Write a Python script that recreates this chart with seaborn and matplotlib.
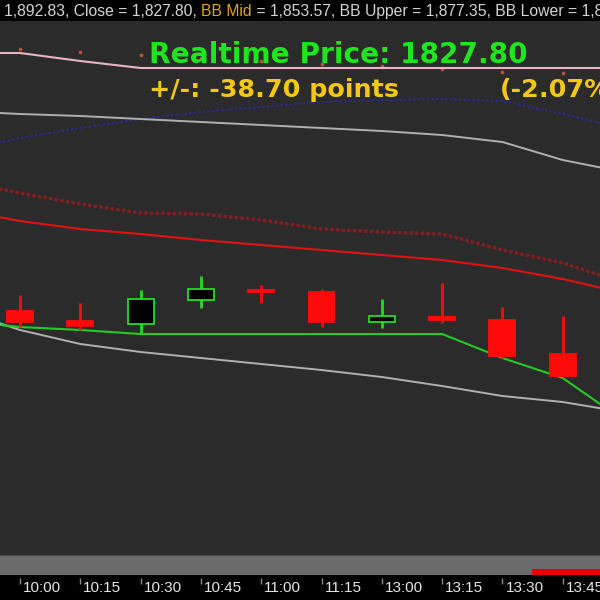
import numpy as np
import matplotlib
matplotlib.use('Agg')
import matplotlib.pyplot as plt
import matplotlib.transforms as mtransforms
import seaborn as sns

sns.set_style('dark')
plt.rcParams['font.family'] = ['Liberation Sans', 'DejaVu Sans']

# --- data ---
time_labels = ['09:45', '10:00', '10:15', '10:30', '10:45', '11:00',
               '11:15', '13:00', '13:15', '13:30', '13:45']
tick_pos = list(range(-1, 10))

candle_pos = list(range(10))
opens = [1837.55, 1836.05, 1835.60, 1839.20, 1840.70, 1840.40, 1835.90, 1836.65, 1836.20, 1831.10]
highs = [1839.95, 1838.75, 1840.70, 1842.80, 1841.45, 1840.85, 1839.35, 1841.75, 1838.15, 1836.80]
lows = [1835.15, 1834.70, 1834.25, 1838.00, 1838.75, 1835.15, 1835.00, 1835.75, 1830.50, 1827.80]
closes = [1835.90, 1835.30, 1839.35, 1840.85, 1840.40, 1835.90, 1836.80, 1836.20, 1830.80, 1827.80]

# indicator lines, sampled at bar positions -1 .. 10
line_pos = list(range(-1, 11))
pink_band = [1876.25, 1876.25, 1875.05, 1874.0, 1874.0, 1874.0, 1874.0, 1874.0, 1874.0, 1874.0, 1874.0, 1874.0]
navy_dots = [1861.4, 1863.5, 1865.0, 1866.35, 1867.4, 1868.15, 1868.9, 1869.2, 1869.35, 1869.05, 1867.1, 1865.0]
upper_gray = [1867.55, 1867.1, 1866.8, 1866.35, 1865.9, 1865.45, 1865.0, 1864.55, 1863.95, 1862.9, 1860.2, 1858.4]
red_dotted = [1857.05, 1855.25, 1853.6, 1852.25, 1852.1, 1851.2, 1849.85, 1849.4, 1849.1, 1846.7, 1844.75, 1841.75]
red_solid = [1852.7, 1851.05, 1849.85, 1849.1, 1848.2, 1847.45, 1846.7, 1845.95, 1845.2, 1844.0, 1842.35, 1840.25]
green_stop = [1836.05, 1835.15, 1834.7, 1834.1, 1834.1, 1834.1, 1834.1, 1834.1, 1834.1, 1830.5, 1827.5, 1821.2]
lower_gray = [1837.7, 1834.7, 1832.6, 1831.4, 1830.5, 1829.6, 1828.7, 1827.65, 1826.3, 1824.8, 1823.9, 1822.4]
sar_dots = [1876.85, 1876.4, 1875.95, 1875.5, 1875.05, 1874.6, 1874.3, 1873.85, 1873.4, 1873.25]

# colours
bg = '#2b2b2b'
up_c = '#22dd22'
down_c = '#ff0a0a'
green_txt = '#1ee61e'
yellow_txt = '#f2c814'

fig = plt.figure(figsize=(6, 6), dpi=100, facecolor='black')

# main price panel
ax = fig.add_axes([0, 45 / 600, 1, 534 / 600])
ax.set_facecolor(bg)
for s in ax.spines.values():
    s.set_visible(False)

sns.lineplot(x=line_pos, y=pink_band, ax=ax, color='#e6b4c4', lw=1.5)
sns.lineplot(x=line_pos, y=navy_dots, ax=ax, color='#2a2a9a', lw=1.5, linestyle=(0, (1, 1.2)))
sns.lineplot(x=line_pos, y=upper_gray, ax=ax, color='#b0b0b0', lw=1.4)
sns.lineplot(x=line_pos, y=red_dotted, ax=ax, color='#8a1e1e', lw=2.4, linestyle=(0, (1, 0.7)))
sns.lineplot(x=line_pos, y=red_solid, ax=ax, color='#e01212', lw=1.5)
sns.lineplot(x=line_pos, y=lower_gray, ax=ax, color='#b0b0b0', lw=1.4)
sns.lineplot(x=line_pos, y=green_stop, ax=ax, color='#22cc22', lw=1.5)
sns.scatterplot(x=candle_pos, y=sar_dots, ax=ax, color='#c0523a', s=7, linewidth=0)

# candles
o = np.array(opens)
c = np.array(closes)
is_up = c > o
wick_cols = [up_c if u else down_c for u in is_up]
ax.vlines(candle_pos, lows, highs, colors=wick_cols, lw=2, zorder=4)
ax.bar(candle_pos, np.abs(c - o), bottom=np.minimum(o, c), width=0.43,
       color=['black' if u else down_c for u in is_up],
       edgecolor=wick_cols, linewidth=1.3, zorder=5)

ax.set_xlim(-20 / 60.3, 580 / 60.3)
ax.set_ylim(1800.95, 1881.05)
ax.set_xticks([])
ax.set_yticks([])
ax.set_xlabel('')
ax.set_ylabel('')

# scroll bar strip
ax_sc = fig.add_axes([0, 25 / 600, 1, 20 / 600])
ax_sc.set_facecolor('#6b6b6b')
ax_sc.set_xlim(0, 1)
ax_sc.set_ylim(0, 1)
ax_sc.axvspan(532 / 600, 1, ymin=0, ymax=0.3, color='#ee0000', lw=0)
ax_sc.axhline(1, color='#4a4a4a', lw=1.5)
ax_sc.set_xticks([])
ax_sc.set_yticks([])
for s in ax_sc.spines.values():
    s.set_visible(False)

# time axis
ax_t = fig.add_axes([0, 0, 1, 25 / 600])
ax_t.set_facecolor('black')
ax_t.set_xlim(ax.get_xlim())
ax_t.set_ylim(0, 1)
ax_t.set_xticks([])
ax_t.set_yticks([])
for s in ax_t.spines.values():
    s.set_visible(False)
trans = ax_t.get_xaxis_transform()
ax_t.vlines(tick_pos, 0.64, 0.88, transform=trans, colors='#8a8a8a', lw=1)
lab_trans = mtransforms.offset_copy(trans, fig=fig, x=3, y=0, units='dots')
for p, lab in zip(tick_pos, time_labels):
    ax_t.text(p, 0.46, lab, transform=lab_trans, ha='left', va='center',
              color='#e6e6e6', fontsize=11)

# header strip
ax_h = fig.add_axes([0, 580 / 600, 1, 20 / 600])
ax_h.set_facecolor('black')
ax_h.set_xticks([])
ax_h.set_yticks([])
for s in ax_h.spines.values():
    s.set_visible(False)
pieces = [('1,892.83, Close = 1,827.80, ', '#d4d4d4'),
          ('BB Mid', '#dcaa10'),
          (' = 1,853.57, BB Upper = 1,877.35, BB Lower = 1,829.79', '#d4d4d4')]
t = ax_h.text(4 / 600, 0.2, pieces[0][0], transform=ax_h.transAxes,
              color=pieces[0][1], fontsize=11.35, va='baseline', ha='left')
for s, col in pieces[1:]:
    t = ax_h.annotate(s, xy=(1, 0), xycoords=t, va='bottom', ha='left',
                      color=col, fontsize=11.35)

# realtime overlay
fig.text(149 / 600, 1 - 63 / 600, 'Realtime Price: 1827.80', family='DejaVu Sans',
         weight='bold', fontsize=20.2, color=green_txt, va='baseline')
fig.text(149 / 600, 1 - 97 / 600, '+/-: -38.70 points', family='DejaVu Sans',
         weight='bold', fontsize=18.3, color=yellow_txt, va='baseline')
fig.text(500 / 600, 1 - 97 / 600, '(-2.07%)', family='DejaVu Sans',
         weight='bold', fontsize=18.3, color=yellow_txt, va='baseline')

fig.savefig('out.png', dpi=100, facecolor=fig.get_facecolor())
